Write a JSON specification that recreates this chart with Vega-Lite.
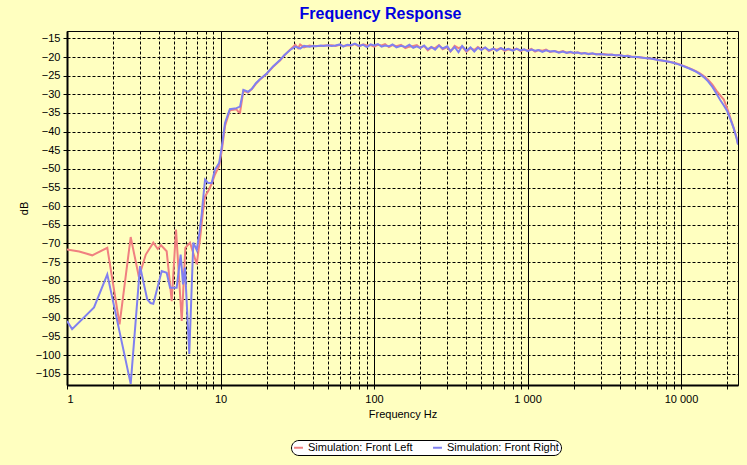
{
  "$schema": "https://vega.github.io/schema/vega-lite/v6.json",
  "autosize": "none",
  "width": 671,
  "height": 354,
  "padding": {"left": 67, "top": 31, "right": 9, "bottom": 80},
  "background": "#FFFFC0",
  "config": {
    "view": {"stroke": "black", "strokeWidth": 1, "fill": "#FFFFC0"},
    "font": "Liberation Sans"
  },
  "title": {"text": "Frequency Response", "fontSize": 16, "font": "Liberation Sans", "fontWeight": "bold", "color": "#0000E0", "anchor": "middle", "dx": -22, "offset": 9},
  "datasets": {
    "left": [
      {"f": 1.0, "db": -71.6}, {"f": 1.2, "db": -72.2}, {"f": 1.46, "db": -73.2}, {"f": 1.83, "db": -71.2},
      {"f": 2.2, "db": -91.7}, {"f": 2.6, "db": -68.3}, {"f": 2.94, "db": -79}, {"f": 3.26, "db": -73},
      {"f": 3.65, "db": -69.8}, {"f": 3.9, "db": -71.5}, {"f": 4.1, "db": -70.5}, {"f": 4.46, "db": -72.1},
      {"f": 4.81, "db": -85.5}, {"f": 5.13, "db": -66.3}, {"f": 5.59, "db": -90.8}, {"f": 5.9, "db": -71.2},
      {"f": 6.33, "db": -69.8}, {"f": 7.0, "db": -75.6}, {"f": 7.37, "db": -68.5}, {"f": 7.66, "db": -62},
      {"f": 7.93, "db": -57.4}, {"f": 8.3, "db": -56}, {"f": 8.76, "db": -54}, {"f": 9.2, "db": -51.5},
      {"f": 9.8, "db": -49.2}, {"f": 10.2, "db": -45}, {"f": 10.7, "db": -38.5}, {"f": 11.5, "db": -34.3},
      {"f": 12.7, "db": -34}, {"f": 13.0, "db": -34.6}, {"f": 13.4, "db": -34.9}, {"f": 14.1, "db": -29},
      {"f": 15.1, "db": -29.5}, {"f": 16, "db": -28.6}, {"f": 17, "db": -27.2}, {"f": 18, "db": -26.1},
      {"f": 20, "db": -24.5}, {"f": 22, "db": -22.6}, {"f": 24.4, "db": -20.9}, {"f": 26, "db": -19.6},
      {"f": 28.4, "db": -18.0}, {"f": 30.7, "db": -16.7}, {"f": 32, "db": -17.6}, {"f": 33, "db": -16.6},
      {"f": 35, "db": -17.4}, {"f": 38, "db": -16.9},
      {"f": 40, "db": -17.1}, {"f": 42, "db": -17.0}, {"f": 45, "db": -17.0}, {"f": 47, "db": -16.9},
      {"f": 50, "db": -16.9}, {"f": 53, "db": -16.8}, {"f": 56, "db": -17.0}, {"f": 60, "db": -16.7},
      {"f": 63, "db": -17.0}, {"f": 67, "db": -16.8}, {"f": 71, "db": -16.9}, {"f": 75, "db": -16.5},
      {"f": 80, "db": -17.1}, {"f": 85, "db": -16.6}, {"f": 90, "db": -16.9}, {"f": 95, "db": -16.8},
      {"f": 100, "db": -17.2}, {"f": 106, "db": -16.7}, {"f": 112, "db": -16.9}, {"f": 118, "db": -16.5},
      {"f": 125, "db": -17.3}, {"f": 132, "db": -16.8}, {"f": 140, "db": -17.1}, {"f": 150, "db": -16.7},
      {"f": 160, "db": -17.6}, {"f": 170, "db": -17.2}, {"f": 180, "db": -17.0}, {"f": 190, "db": -16.8},
      {"f": 200, "db": -17.5}, {"f": 212, "db": -17.0}, {"f": 224, "db": -18.2}, {"f": 236, "db": -17.4},
      {"f": 250, "db": -17.6}, {"f": 265, "db": -16.8}, {"f": 280, "db": -17.9}, {"f": 300, "db": -17.3},
      {"f": 315, "db": -18.5}, {"f": 335, "db": -17.0}, {"f": 355, "db": -17.6}, {"f": 375, "db": -17.2},
      {"f": 400, "db": -18.6}, {"f": 425, "db": -17.6}, {"f": 450, "db": -18.1}, {"f": 475, "db": -17.3},
      {"f": 500, "db": -17.9}, {"f": 530, "db": -17.5}, {"f": 560, "db": -18.4}, {"f": 600, "db": -17.8},
      {"f": 630, "db": -18.0}, {"f": 670, "db": -17.6}, {"f": 710, "db": -18.3}, {"f": 750, "db": -17.9},
      {"f": 800, "db": -18.1}, {"f": 850, "db": -17.7}, {"f": 900, "db": -18.4}, {"f": 950, "db": -18.0},
      {"f": 1000, "db": -18.2}, {"f": 1060, "db": -17.8}, {"f": 1120, "db": -18.5}, {"f": 1180, "db": -18.1},
      {"f": 1250, "db": -18.3}, {"f": 1320, "db": -18.0}, {"f": 1400, "db": -18.6}, {"f": 1500, "db": -18.4},
      {"f": 1600, "db": -18.7}, {"f": 1700, "db": -18.4}, {"f": 1800, "db": -18.8}, {"f": 1900, "db": -18.7},
      {"f": 2000, "db": -18.9}, {"f": 2120, "db": -18.7}, {"f": 2240, "db": -19.0}, {"f": 2360, "db": -19.0},
      {"f": 2500, "db": -19.1}, {"f": 2650, "db": -19.1}, {"f": 2800, "db": -19.2}, {"f": 3000, "db": -19.3},
      {"f": 3150, "db": -19.2}, {"f": 3350, "db": -19.4}, {"f": 3550, "db": -19.3}, {"f": 3750, "db": -19.6},
      {"f": 4000, "db": -19.4}, {"f": 4250, "db": -19.8}, {"f": 4500, "db": -19.6}, {"f": 4750, "db": -19.9},
      {"f": 5000, "db": -19.9}, {"f": 5300, "db": -20.1}, {"f": 5600, "db": -20.1}, {"f": 6000, "db": -20.3},
      {"f": 6300, "db": -20.4}, {"f": 6700, "db": -20.5}, {"f": 7100, "db": -20.8}, {"f": 7500, "db": -20.9},
      {"f": 8000, "db": -21.1}, {"f": 8500, "db": -21.3}, {"f": 9000, "db": -21.5}, {"f": 9500, "db": -21.8},
      {"f": 10000, "db": -22.1}, {"f": 10600, "db": -22.5}, {"f": 11200, "db": -22.9}, {"f": 11800, "db": -23.3},
      {"f": 12500, "db": -23.8}, {"f": 13200, "db": -24.3}, {"f": 14000, "db": -25.0}, {"f": 15000, "db": -26.1},
      {"f": 16000, "db": -27.4}, {"f": 17000, "db": -29.0}, {"f": 18000, "db": -30.3}, {"f": 19000, "db": -31.4},
      {"f": 20000, "db": -33.8}, {"f": 21000, "db": -36.4}, {"f": 22000, "db": -39.0}, {"f": 23000, "db": -41.6},
      {"f": 23500, "db": -43.3}
    ],
    "right": [
      {"f": 1.0, "db": -90.8}, {"f": 1.08, "db": -93}, {"f": 1.5, "db": -87.2}, {"f": 1.83, "db": -78.3},
      {"f": 2.6, "db": -107.7}, {"f": 2.99, "db": -76.1}, {"f": 3.33, "db": -85}, {"f": 3.5, "db": -86},
      {"f": 3.65, "db": -86.2}, {"f": 4.14, "db": -77.4}, {"f": 4.46, "db": -77.9}, {"f": 4.69, "db": -81.9},
      {"f": 5.18, "db": -81.9}, {"f": 5.5, "db": -73}, {"f": 5.7, "db": -81}, {"f": 5.87, "db": -76.5},
      {"f": 6.26, "db": -99.7}, {"f": 6.65, "db": -69.8}, {"f": 7.0, "db": -71.8}, {"f": 7.3, "db": -67},
      {"f": 7.55, "db": -62}, {"f": 7.66, "db": -59.1}, {"f": 7.93, "db": -52.9}, {"f": 8.3, "db": -53.8},
      {"f": 8.76, "db": -53.8}, {"f": 9.2, "db": -50.2}, {"f": 9.8, "db": -48.4}, {"f": 10.2, "db": -44},
      {"f": 10.7, "db": -37.7}, {"f": 11.5, "db": -34}, {"f": 12.7, "db": -33.7}, {"f": 13.4, "db": -33.3},
      {"f": 14.1, "db": -28.8}, {"f": 15.1, "db": -29.3}, {"f": 16, "db": -28.5}, {"f": 17, "db": -27},
      {"f": 18, "db": -26}, {"f": 20, "db": -24.4}, {"f": 22, "db": -22.5}, {"f": 24.4, "db": -20.8},
      {"f": 26, "db": -19.5}, {"f": 28.4, "db": -18.1}, {"f": 30.7, "db": -17.2}, {"f": 33, "db": -17.7},
      {"f": 35, "db": -17.0}, {"f": 38, "db": -17.2},
      {"f": 40, "db": -17.0}, {"f": 42, "db": -17.1}, {"f": 45, "db": -16.9}, {"f": 47, "db": -17.0},
      {"f": 50, "db": -16.8}, {"f": 53, "db": -17.0}, {"f": 56, "db": -16.9}, {"f": 60, "db": -16.6},
      {"f": 63, "db": -17.2}, {"f": 67, "db": -16.7}, {"f": 71, "db": -16.8}, {"f": 75, "db": -16.4},
      {"f": 80, "db": -17.0}, {"f": 85, "db": -16.7}, {"f": 90, "db": -17.3}, {"f": 95, "db": -16.6},
      {"f": 100, "db": -16.9}, {"f": 106, "db": -16.5}, {"f": 112, "db": -17.2}, {"f": 118, "db": -16.9},
      {"f": 125, "db": -17.1}, {"f": 132, "db": -16.6}, {"f": 140, "db": -17.4}, {"f": 150, "db": -17.0},
      {"f": 160, "db": -17.3}, {"f": 170, "db": -16.7}, {"f": 180, "db": -17.5}, {"f": 190, "db": -17.1},
      {"f": 200, "db": -17.6}, {"f": 212, "db": -16.9}, {"f": 224, "db": -17.9}, {"f": 236, "db": -17.3},
      {"f": 250, "db": -18.0}, {"f": 265, "db": -16.9}, {"f": 280, "db": -17.7}, {"f": 300, "db": -17.1},
      {"f": 315, "db": -18.4}, {"f": 335, "db": -17.3}, {"f": 355, "db": -18.7}, {"f": 375, "db": -17.0},
      {"f": 400, "db": -18.3}, {"f": 425, "db": -17.4}, {"f": 450, "db": -18.5}, {"f": 475, "db": -17.5},
      {"f": 500, "db": -18.1}, {"f": 530, "db": -17.4}, {"f": 560, "db": -18.2}, {"f": 600, "db": -17.7},
      {"f": 630, "db": -18.3}, {"f": 670, "db": -17.6}, {"f": 710, "db": -18.1}, {"f": 750, "db": -17.8},
      {"f": 800, "db": -18.3}, {"f": 850, "db": -17.8}, {"f": 900, "db": -18.2}, {"f": 950, "db": -17.9},
      {"f": 1000, "db": -18.4}, {"f": 1060, "db": -18.0}, {"f": 1120, "db": -18.3}, {"f": 1180, "db": -18.1},
      {"f": 1250, "db": -18.6}, {"f": 1320, "db": -18.2}, {"f": 1400, "db": -18.5}, {"f": 1500, "db": -18.4},
      {"f": 1600, "db": -18.8}, {"f": 1700, "db": -18.5}, {"f": 1800, "db": -18.9}, {"f": 1900, "db": -18.6},
      {"f": 2000, "db": -18.9}, {"f": 2120, "db": -18.8}, {"f": 2240, "db": -19.1}, {"f": 2360, "db": -18.9},
      {"f": 2500, "db": -19.2}, {"f": 2650, "db": -19.0}, {"f": 2800, "db": -19.3}, {"f": 3000, "db": -19.2},
      {"f": 3150, "db": -19.3}, {"f": 3350, "db": -19.4}, {"f": 3550, "db": -19.4}, {"f": 3750, "db": -19.5},
      {"f": 4000, "db": -19.5}, {"f": 4250, "db": -19.7}, {"f": 4500, "db": -19.7}, {"f": 4750, "db": -19.9},
      {"f": 5000, "db": -20.0}, {"f": 5300, "db": -20.0}, {"f": 5600, "db": -20.2}, {"f": 6000, "db": -20.3},
      {"f": 6300, "db": -20.4}, {"f": 6700, "db": -20.6}, {"f": 7100, "db": -20.8}, {"f": 7500, "db": -20.9},
      {"f": 8000, "db": -21.1}, {"f": 8500, "db": -21.3}, {"f": 9000, "db": -21.6}, {"f": 9500, "db": -21.9},
      {"f": 10000, "db": -22.2}, {"f": 10600, "db": -22.6}, {"f": 11200, "db": -23.0}, {"f": 11800, "db": -23.4},
      {"f": 12500, "db": -23.9}, {"f": 13200, "db": -24.5}, {"f": 14000, "db": -25.3}, {"f": 15000, "db": -26.5},
      {"f": 16000, "db": -28.0}, {"f": 17000, "db": -29.8}, {"f": 18000, "db": -31.5}, {"f": 19000, "db": -33.0},
      {"f": 20000, "db": -34.5}, {"f": 21000, "db": -36.8}, {"f": 22000, "db": -39.0}, {"f": 23000, "db": -41.8},
      {"f": 23500, "db": -43.5}
    ]
  },
  "encoding": {
    "x": {
      "field": "f", "type": "quantitative",
      "scale": {"type": "log", "domain": [1, 23500], "nice": false},
      "axis": {
        "title": "Frequency Hz",
        "titleFont": "Liberation Sans", "titleFontSize": 11, "titleFontWeight": "normal", "titleColor": "black", "titlePadding": 4,
        "labelFont": "Liberation Sans", "labelFontSize": 11, "labelColor": "black", "labelPadding": 4,
        "values": [1,2,3,4,5,6,7,8,9,10,20,30,40,50,60,70,80,90,100,200,300,400,500,600,700,800,900,1000,2000,3000,4000,5000,6000,7000,8000,9000,10000,20000],
        "labelExpr": "indexof([1,10,100,1000,10000], datum.value) >= 0 ? replace(format(datum.value, ','), ',', ' ') : ''",
        "labelOverlap": false,
        "grid": true, "gridColor": "black", "gridOpacity": 1, "gridWidth": 1,
        "gridDash": {"condition": {"test": "indexof([1,10,100,1000,10000], datum.value) >= 0", "value": []}, "value": [3, 2]},
        "domainColor": "black", "domainWidth": 2,
        "tickColor": "black", "tickSize": 4, "tickWidth": 1
      }
    },
    "y": {
      "field": "db", "type": "quantitative",
      "scale": {"domain": [-108, -13], "nice": false, "zero": false},
      "axis": {
        "title": "dB",
        "titleFont": "Liberation Sans", "titleFontSize": 11, "titleFontWeight": "normal", "titleColor": "black", "titlePadding": 6,
        "labelFont": "Liberation Sans", "labelFontSize": 11, "labelColor": "black", "labelPadding": 3,
        "values": [-105,-100,-95,-90,-85,-80,-75,-70,-65,-60,-55,-50,-45,-40,-35,-30,-25,-20,-15],
        "grid": true, "gridColor": "black", "gridOpacity": 1, "gridWidth": 1, "gridDash": [3, 2],
        "domainColor": "black", "domainWidth": 2,
        "tickColor": "black", "tickSize": 4, "tickWidth": 1
      }
    },
    "color": {
      "type": "nominal",
      "scale": {"domain": ["Simulation: Front Left", "Simulation: Front Right"], "range": ["#F08080", "#8080F0"]},
      "legend": {
        "title": null, "orient": "none", "legendX": 224, "legendY": 409, "direction": "horizontal",
        "fillColor": "white", "strokeColor": "black", "cornerRadius": 8, "padding": 2,
        "symbolType": "stroke", "symbolStrokeWidth": 2, "symbolSize": 80,
        "labelFont": "Liberation Sans", "labelFontSize": 11, "labelColor": "black", "columnPadding": 16
      }
    }
  },
  "layer": [
    {"data": {"name": "left"}, "mark": {"type": "line", "strokeWidth": 2, "clip": true}, "encoding": {"color": {"datum": "Simulation: Front Left"}}},
    {"data": {"name": "right"}, "mark": {"type": "line", "strokeWidth": 2, "clip": true}, "encoding": {"color": {"datum": "Simulation: Front Right"}}}
  ]
}
